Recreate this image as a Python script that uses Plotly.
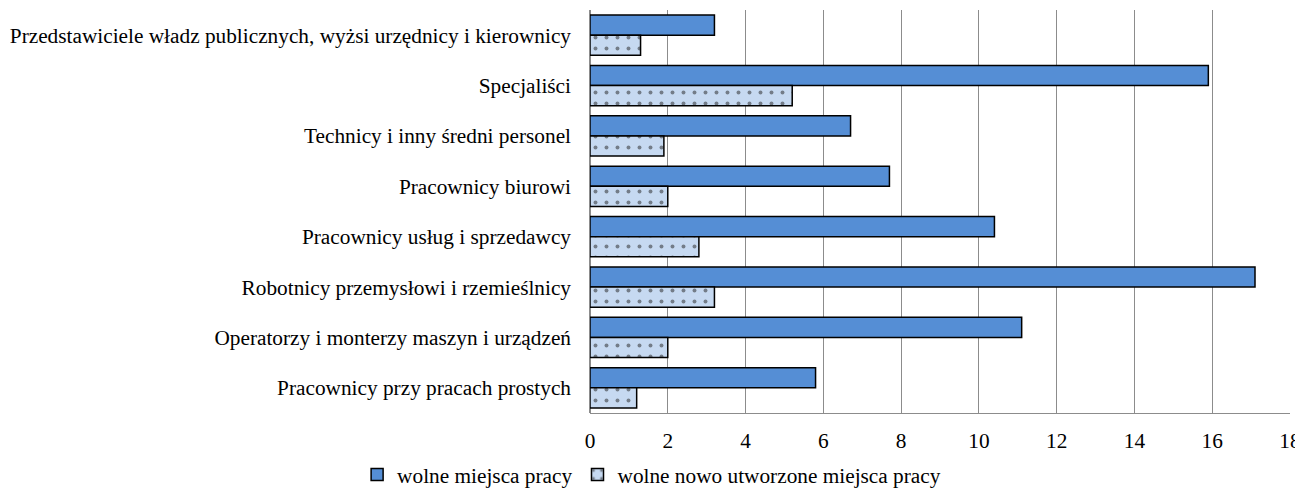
import plotly.graph_objects as go

# ── Données ───────────────────────────────────────────────────
kategorie = [
    "Przedstawiciele władz publicznych, wyżsi urzędnicy i kierownicy",
    "Specjaliści",
    "Technicy i inny średni personel",
    "Pracownicy biurowi",
    "Pracownicy usług i sprzedawcy",
    "Robotnicy przemysłowi i rzemieślnicy",
    "Operatorzy i monterzy maszyn i urządzeń",
    "Pracownicy przy pracach prostych",
]
wolne = [3.2, 15.9, 6.7, 7.7, 10.4, 17.1, 11.1, 5.8]
nowo_utworzone = [1.3, 5.2, 1.9, 2.0, 2.8, 3.2, 2.0, 1.2]

FONT = "Liberation Serif, Times New Roman, serif"

fig = go.Figure()
fig.add_bar(
    y=kategorie, x=wolne, orientation="h",
    name="wolne miejsca pracy",
    marker=dict(color="#558ed5", line=dict(color="#000000", width=1.5)),
)
fig.add_bar(
    y=kategorie, x=nowo_utworzone, orientation="h",
    name="wolne nowo utworzone miejsca pracy",
    marker=dict(
        color="#c6d9f1",
        line=dict(color="#000000", width=1.5),
        pattern=dict(shape=".", fgcolor="#202020", bgcolor="#c6d9f1",
                     size=11, solidity=0.1, fillmode="overlay"),
    ),
)

# la page ajoute une marge de 8 px autour du graphique
fig.update_layout(
    width=1295, height=480,
    paper_bgcolor="white", plot_bgcolor="white",
    font=dict(family=FONT, size=21.3, color="#000000"),
    margin=dict(l=582, r=13, t=2, b=75, autoexpand=False),
    barmode="group", bargap=0.2, bargroupgap=0,
    legend=dict(orientation="h", xref="container", x=0.497, xanchor="center",
                yref="paper", y=-0.153, yanchor="middle",
                bgcolor="rgba(0,0,0,0)",
                font=dict(size=21.3), itemwidth=30, tracegroupgap=0),
)
fig.update_xaxes(
    range=[0, 18], dtick=2, showgrid=True, gridcolor="#8c8c8c", gridwidth=1,
    showline=True, linecolor="#8c8c8c", zeroline=True, zerolinecolor="#8c8c8c",
    ticks="", ticklabelstandoff=8, automargin=False,
)
fig.update_yaxes(autorange="reversed", showgrid=False, ticks="",
                 ticklabelstandoff=18, automargin=False)

fig.write_html("out.html")
